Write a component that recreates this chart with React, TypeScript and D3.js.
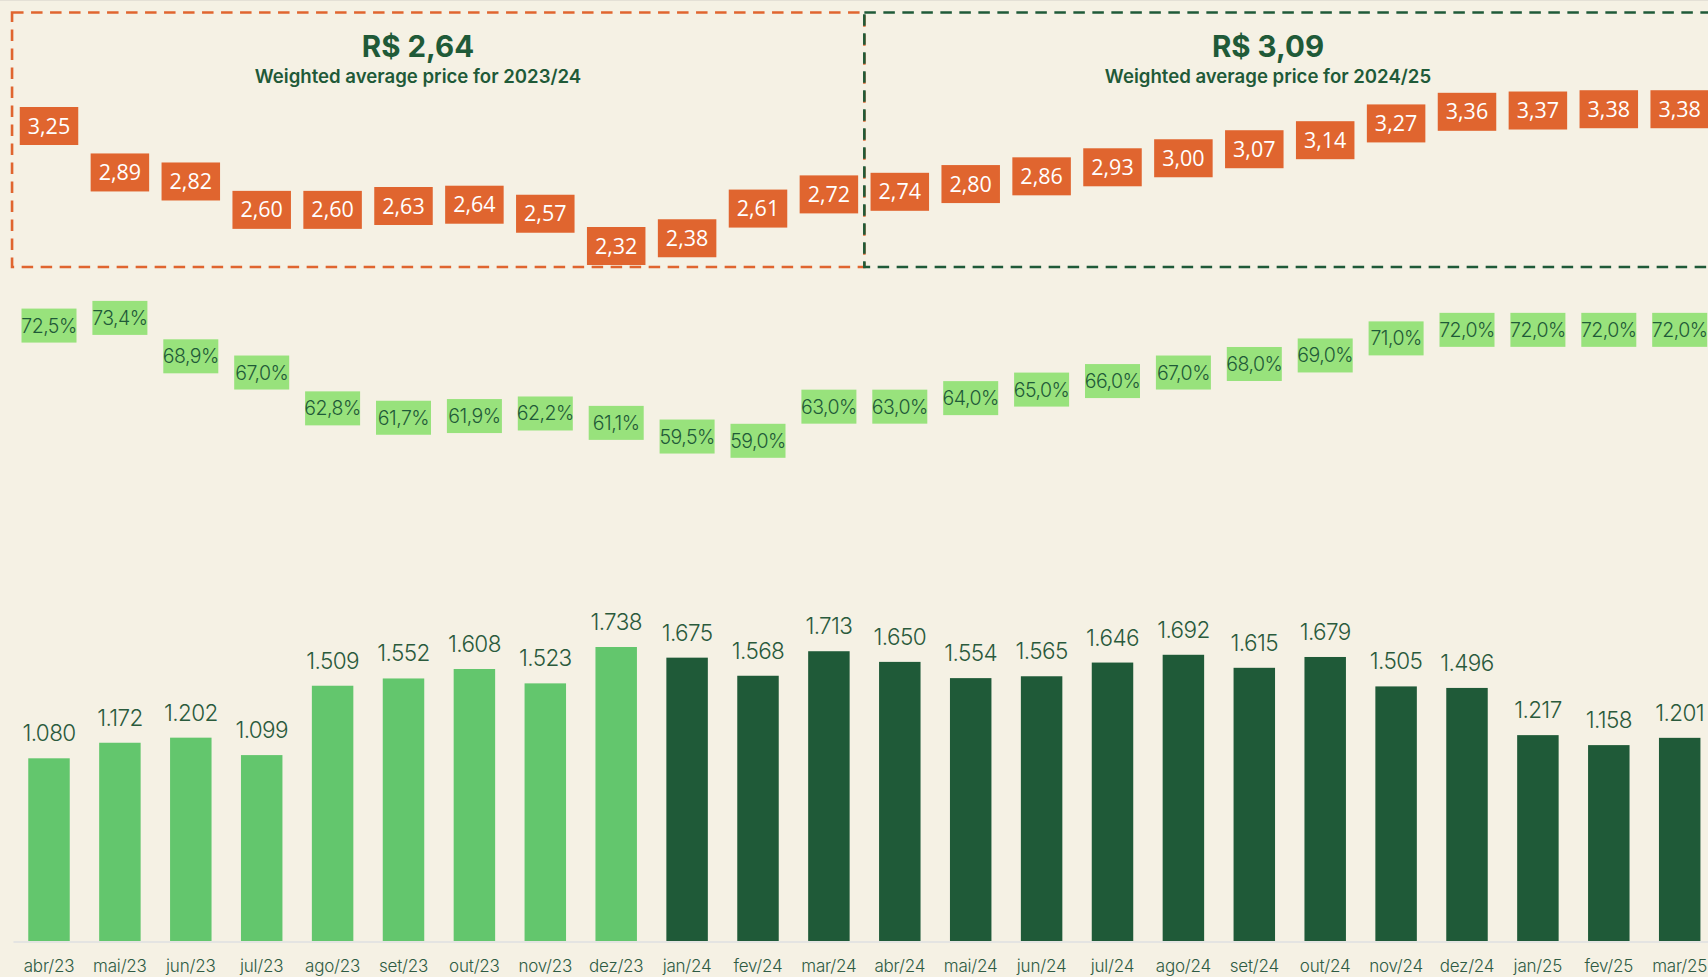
import React from "react";
import * as d3 from "d3";

const months = ["abr/23","mai/23","jun/23","jul/23","ago/23","set/23","out/23","nov/23","dez/23","jan/24","fev/24","mar/24","abr/24","mai/24","jun/24","jul/24","ago/24","set/24","out/24","nov/24","dez/24","jan/25","fev/25","mar/25"];
const volumes = [1080,1172,1202,1099,1509,1552,1608,1523,1738,1675,1568,1713,1650,1554,1565,1646,1692,1615,1679,1505,1496,1217,1158,1201];
const shares = [72.5,73.4,68.9,67.0,62.8,61.7,61.9,62.2,61.1,59.5,59.0,63.0,63.0,64.0,65.0,66.0,67.0,68.0,69.0,71.0,72.0,72.0,72.0,72.0];
const prices = [3.25,2.89,2.82,2.60,2.60,2.63,2.64,2.57,2.32,2.38,2.61,2.72,2.74,2.80,2.86,2.93,3.00,3.07,3.14,3.27,3.36,3.37,3.38,3.38];
const lightMonths = months.slice(0, 9);

const periodAvg = ["R$ 2,64", "R$ 3,09"];
const periodLabel = ["Weighted average price for 2023/24", "Weighted average price for 2024/25"];
const periodStart = ["abr/23", "abr/24"];
const periodEnd = ["mar/24", "mar/25"];

const W = 1708, H = 977;
const BG = "#f5f1e4";
const ORANGE = "#e0652f";
const DARK = "#1f5a38";
const LIGHT = "#63c66d";
const PCT_BG = "#98e27c";

const fmtVol = (v: number) => d3.format(",")(v).replace(/,/g, ".");
const fmtPrice = (v: number) => v.toFixed(2).replace(".", ",");
const fmtPct = (v: number) => v.toFixed(1).replace(".", ",") + "%";

export default function App() {
  const x = d3.scaleBand<string>()
    .domain(months)
    .range([13.55, 13.55 + 24 * 70.9])
    .paddingInner(0.415)
    .paddingOuter(0.2075);
  const bw = x.bandwidth();
  const step = x.step();
  const cx = (m: string) => (x(m) as number) + bw / 2;

  const yVol = d3.scaleLinear().domain([0, 1738]).range([941, 647]);
  const yPct = d3.scaleLinear().domain([59, 73.4]).range([440.8, 317.9]);
  const yPrice = d3.scaleLinear().domain([2.32, 3.25]).range([246, 126]);

  const titleX = [418, 1268];
  const periodColors = [ORANGE, DARK];

  return (
    <div style={{ position: "fixed", left: 0, top: 0, width: W, height: H, background: BG }}>
      <svg width={W} height={H} style={{ display: "block" }}>
        <rect x={0} y={0} width={W} height={H} fill={BG} />
        <line x1={0} x2={W} y1={0.5} y2={0.5} stroke="#e4e0d6" strokeWidth={1} />

        {/* period boxes */}
        {periodStart.map((s, i) => {
          const left = cx(s) - step / 2 - (i === 0 ? 1.5 : 0);
          const right = i === periodStart.length - 1 ? W + 20 : cx(periodEnd[i]) + step / 2;
          return (
            <rect key={"pb" + i} x={left} y={12.5} width={right - left} height={254.5}
              fill="none" stroke={periodColors[i]} strokeWidth={2.6} strokeDasharray="11.5 7.5" />
          );
        })}
        {periodAvg.map((t, i) => (
          <g key={"pt" + i} fill={DARK} textAnchor="middle" fontFamily="Inter, 'Noto Sans', sans-serif">
            <text x={titleX[i]} y={57} fontSize={29.5} fontWeight={700}>{t}</text>
            <text x={titleX[i]} y={82.5} fontSize={18.6} fontWeight={600}>{periodLabel[i]}</text>
          </g>
        ))}

        {/* price boxes */}
        {months.map((m, i) => (
          <g key={"pr" + i}>
            <rect x={cx(m) - 29.25} y={yPrice(prices[i]) - 19} width={58.5} height={38} fill={ORANGE} />
            <text x={cx(m)} y={yPrice(prices[i]) + 7.5} textAnchor="middle" fill="#ffffff"
              fontFamily="'Open Sans', 'Noto Sans', sans-serif" fontSize={21.5}>{fmtPrice(prices[i])}</text>
          </g>
        ))}

        {/* share boxes */}
        {months.map((m, i) => (
          <g key={"sh" + i}>
            <rect x={cx(m) - 27.5} y={yPct(shares[i]) - 17} width={55} height={34} fill={PCT_BG} />
            <text x={cx(m)} y={yPct(shares[i]) + 7} textAnchor="middle" fill={DARK}
              fontFamily="Inter, 'Noto Sans', sans-serif" fontSize={19.5} fontWeight={300} letterSpacing={-0.5}>{fmtPct(shares[i])}</text>
          </g>
        ))}

        {/* bars */}
        {months.map((m, i) => (
          <g key={"b" + i}>
            <rect x={x(m)} y={yVol(volumes[i])} width={bw} height={yVol(0) - yVol(volumes[i])}
              fill={lightMonths.includes(m) ? LIGHT : DARK} />
            <text x={cx(m)} y={yVol(volumes[i]) - 17} textAnchor="middle" fill="#2a5a3c"
              fontFamily="Inter, 'Noto Sans', sans-serif" fontSize={22.5} fontWeight={300} letterSpacing={-0.6}>{fmtVol(volumes[i])}</text>
          </g>
        ))}
        <line x1={13.5} x2={W} y1={yVol(0) + 1} y2={yVol(0) + 1} stroke="#e4e4e2" strokeWidth={2} />

        {/* month labels */}
        {months.map((m) => (
          <text key={"m" + m} x={cx(m)} y={972} textAnchor="middle" fill="#2e5b43"
            fontFamily="Inter, 'Noto Sans', sans-serif" fontSize={17} fontWeight={300} letterSpacing={-0.2}>{m}</text>
        ))}
      </svg>
    </div>
  );
}
